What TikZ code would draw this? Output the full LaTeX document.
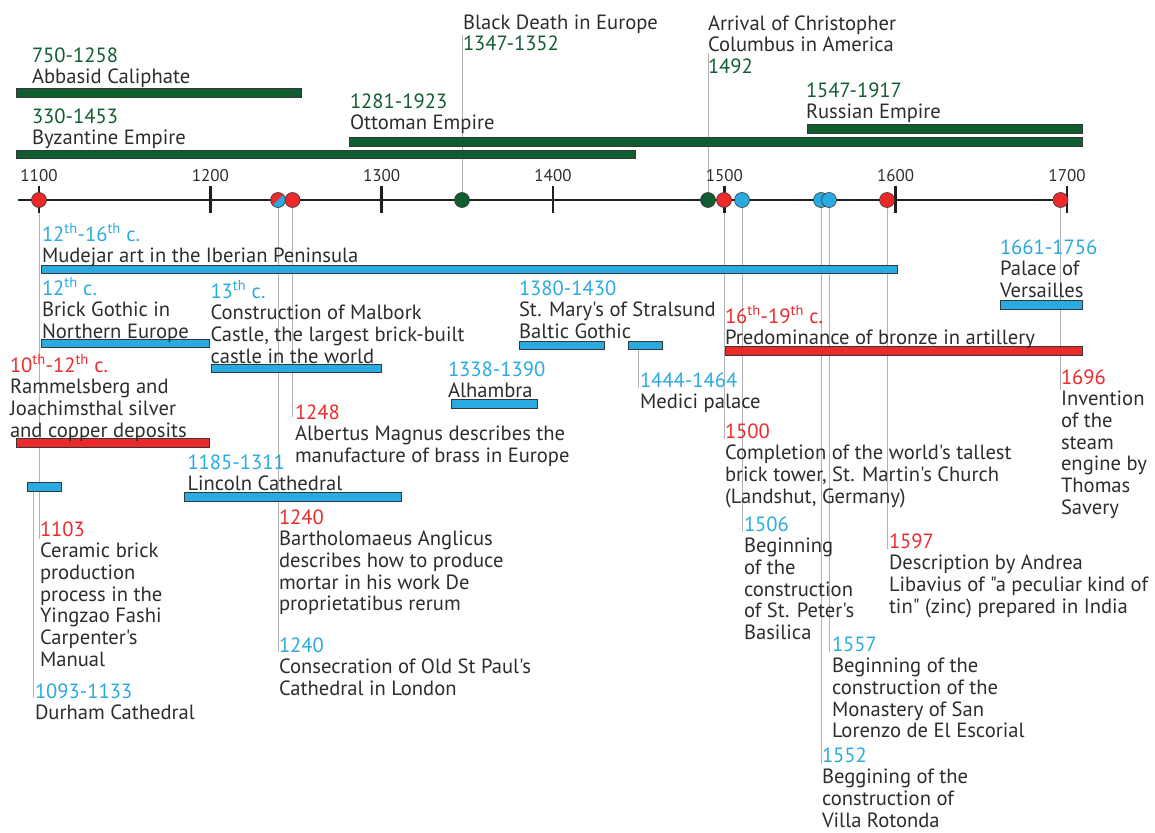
\documentclass[tikz,border=0pt]{standalone}
\usepackage{fontspec}
\setmainfont{PT Sans}
\newfontfamily\lblfnt{PT Sans}
\usetikzlibrary{backgrounds}
\definecolor{cgreen}{RGB}{16,94,48}
\definecolor{cblue}{RGB}{41,170,225}
\definecolor{cred}{RGB}{237,41,44}
\definecolor{ctxt}{RGB}{45,45,45}
\definecolor{cline}{RGB}{178,178,178}
\definecolor{cedge}{RGB}{55,55,55}
\definecolor{caxis}{RGB}{35,31,32}
\newcommand\yg[1]{\textcolor{cgreen}{#1}}
\newcommand\yb[1]{\textcolor{cblue}{#1}}
\newcommand\yr[1]{\textcolor{cred}{#1}}
\newcommand\thsup{\textsuperscript{th}}
\begin{document}
\begin{tikzpicture}[x=1pt,y=-1pt,
  lbl/.style={anchor=north west, inner sep=0pt, outer sep=0pt, align=left, text=ctxt,
    font=\lblfnt\fontsize{20.6}{21.7}\selectfont, yshift=13.5pt, execute at begin node={\rule{0pt}{19pt}}},
  axlbl/.style={anchor=base, inner sep=0pt, text=ctxt, font=\lblfnt\fontsize{17}{18}\selectfont},
  bar/.style={draw=cedge, line width=0.6pt},
  dot/.style={circle, draw=cedge, line width=0.6pt, minimum size=15pt, inner sep=0pt},
  leader/.style={draw=cline, line width=0.9pt},
  axisline/.style={draw=caxis, line width=2.2pt},
  tickline/.style={draw=caxis, line width=2.6pt}]
\useasboundingbox (0,0) rectangle (1155,832);

% ---------- top (green) ----------
\node[lbl] (tAbb) at (32,61) {\yg{750-1258}\\Abbasid Caliphate};
\node[lbl] (tByz) at (32,122) {\yg{330-1453}\\Byzantine Empire};
\node[lbl] (tOtt) at (350,107) {\yg{1281-1923}\\Ottoman Empire};
\node[lbl] (tRus) at (806,96) {\yg{1547-1917}\\Russian Empire};
\node[lbl] (tBD) at (463,28) {Black Death in Europe\\\yg{1347-1352}};
\node[lbl] (tCol) at (708,29) {Arrival of Christopher\\Columbus in America\\\yg{1492}};

\path[bar, fill=cgreen] (16,88) rectangle (301,97);
\path[bar, fill=cgreen] (16,150) rectangle (635,158);
\path[bar, fill=cgreen] (349,137) rectangle (1082,146);
\path[bar, fill=cgreen] (807,124) rectangle (1082,133);

% ---------- axis ----------
\draw[axisline] (18,200) -- (1067,200);
\foreach \t/\lab in {39/1100,210.3/1200,381.7/1300,553/1400,724.3/1500,895.7/1600,1067/1700}{
  \draw[tickline] (\t,186) -- (\t,213);
  \node[axlbl] (ax\lab) at (\t,181) {\lab};
}

% ---------- bars below ----------
\path[bar, fill=cblue] (41,265) rectangle (897,273);
\path[bar, fill=cblue] (41,339) rectangle (209,347);
\path[bar, fill=cblue] (211,364) rectangle (381,372);
\path[bar, fill=cred] (16,438) rectangle (209,447);
\path[bar, fill=cblue] (451,399) rectangle (537,408);
\path[bar, fill=cblue] (519,341) rectangle (604,349);
\path[bar, fill=cblue] (628,341) rectangle (662,349);
\path[bar, fill=cblue] (184,492) rectangle (401,501);
\path[bar, fill=cblue] (27,482) rectangle (61,491);
\path[bar, fill=cblue] (1000,300) rectangle (1082,309);
\path[bar, fill=cred] (725,346) rectangle (1082,355);

% ---------- dots ----------
\node[dot, fill=cred] (d1100) at (39,200) {};
\begin{scope}
  \clip (278,200) circle (7.5);
  \fill[cred] (269,191) rectangle (287,209);
  \fill[cblue] (269,209) -- (287,191) -- (287,209) -- cycle;
\end{scope}
\node[dot] (d1240) at (278,200) {};
\node[dot, fill=cred] (d1248) at (292.5,200) {};
\node[dot, fill=cgreen] (d1347) at (462,200) {};
\node[dot, fill=cgreen] (d1492) at (708,200) {};
\node[dot, fill=cred] (d1500) at (724,200) {};
\node[dot, fill=cblue] (d1506) at (742,200) {};
\node[dot, fill=cblue] (d1552) at (821,200) {};
\node[dot, fill=cblue] (d1557) at (829,200) {};
\node[dot, fill=cred] (d1597) at (887,200) {};
\node[dot, fill=cred] (d1696) at (1060.5,200) {};

% ---------- labels below ----------
\node[lbl] (tMud) at (42,237) {\yb{12\thsup-16\thsup{} c.}\\Mudejar art in the Iberian Peninsula};
\node[lbl] (tBG) at (42,291) {\yb{12\thsup{} c.}\\Brick Gothic in\\Northern Europe};
\node[lbl] (tMal) at (210.5,294) {\yb{13\thsup{} c.}\\Construction of Malbork\\Castle, the largest brick-built\\castle in the world};
\node[lbl] (tRam) at (10,368) {\yr{10\thsup-12\thsup{} c.}\\Rammelsberg and\\Joachimsthal silver\\and copper deposits};
\node[lbl] (tAlh) at (448,375) {\yb{1338-1390}\\Alhambra};
\node[lbl] (tStr) at (519,294) {\yb{1380-1430}\\St. Mary's of Stralsund\\Baltic Gothic};
\node[lbl] (tMed) at (640,386) {\yb{1444-1464}\\Medici palace};
\node[lbl] (t1248) at (295,418) {\yr{1248}\\Albertus Magnus describes the\\manufacture of brass in Europe};
\node[lbl] (tLin) at (187.5,468) {\yb{1185-1311}\\Lincoln Cathedral};
\node[lbl] (t1240r) at (279,523) {\yr{1240}\\Bartholomaeus Anglicus\\describes how to produce\\mortar in his work De\\proprietatibus rerum};
\node[lbl] (t1240b) at (279,651) {\yb{1240}\\Consecration of Old St Paul's\\Cathedral in London};
\node[lbl] (t1103) at (40,535) {\yr{1103}\\Ceramic brick\\production\\process in the\\Yingzao Fashi\\Carpenter's\\Manual};
\node[lbl] (tDur) at (35,697) {\yb{1093-1133}\\Durham Cathedral};
\node[lbl] (tVer) at (1000,253) {\yb{1661-1756}\\Palace of\\Versailles};
\node[lbl] (tBro) at (725,319) {\yr{16\thsup-19\thsup{} c.}\\Predominance of bronze in artillery};
\node[lbl] (t1696) at (1061,383) {\yr{1696}\\Invention\\of the\\steam\\engine by\\Thomas\\Savery};
\node[lbl] (t1500) at (725,437) {\yr{1500}\\Completion of the world's tallest\\brick tower, St. Martin's Church\\(Landshut, Germany)};
\node[lbl] (t1506) at (744,530) {\yb{1506}\\Beginning\\of the\\construction\\of St. Peter's\\Basilica};
\node[lbl] (t1597) at (889,547) {\yr{1597}\\Description by Andrea\\Libavius of "a peculiar kind of\\tin" (zinc) prepared in India};
\node[lbl] (t1557) at (832,650) {\yb{1557}\\Beginning of the\\construction of the\\Monastery of San\\Lorenzo de El Escorial};
\node[lbl] (t1552) at (822,761) {\yb{1552}\\Beggining of the\\construction of\\Villa Rotonda};

% ---------- leader lines ----------
\coordinate (e1103) at (39,539);
\coordinate (sDur) at (33,491);
\coordinate (eDur) at (33,698);
\coordinate (e1240) at (278,652);
\coordinate (e1248) at (292.5,417);
\coordinate (sBD) at (462,35);
\coordinate (sCol) at (708,53);
\coordinate (e1500) at (724,439);
\coordinate (e1506) at (742,532);
\coordinate (e1552) at (821,764);
\coordinate (e1557) at (829,652);
\coordinate (e1597) at (887,549);
\coordinate (e1696) at (1060.5,390);
\coordinate (sMed) at (638,349);
\coordinate (eMed) at (638,388);
\begin{scope}[on background layer]
  \draw[leader] (d1100.center) -- (e1103);
  \draw[leader] (sDur) -- (eDur);
  \draw[leader] (d1240.center) -- (e1240);
  \draw[leader] (d1248.center) -- (e1248);
  \draw[leader] (sBD) -- (d1347.center);
  \draw[leader] (sCol) -- (d1492.center);
  \draw[leader] (d1500.center) -- (e1500);
  \draw[leader] (d1506.center) -- (e1506);
  \draw[leader] (d1552.center) -- (e1552);
  \draw[leader] (d1557.center) -- (e1557);
  \draw[leader] (d1597.center) -- (e1597);
  \draw[leader] (d1696.center) -- (e1696);
  \draw[leader] (sMed) -- (eMed);
\end{scope}
\end{tikzpicture}
\end{document}
